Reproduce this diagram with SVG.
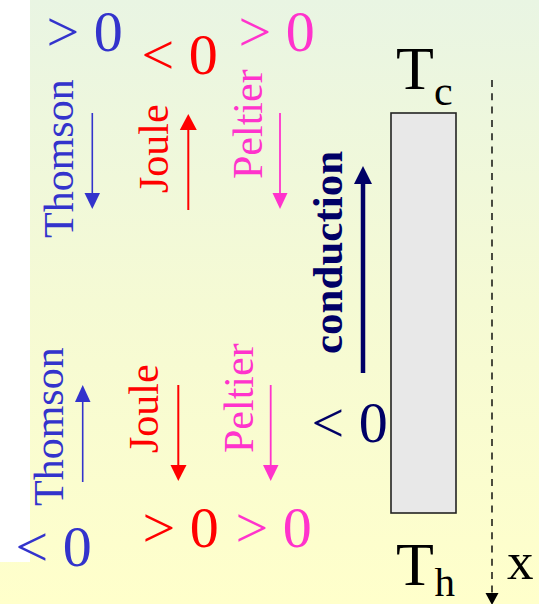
<svg xmlns="http://www.w3.org/2000/svg" width="539" height="604" viewBox="0 0 539 604">
  <defs>
    <linearGradient id="bg" x1="0" y1="0" x2="0" y2="1">
      <stop offset="0" stop-color="#E9F5E3"/>
      <stop offset="0.5" stop-color="#F5FAD4"/>
      <stop offset="1" stop-color="#FFFFCB"/>
    </linearGradient>
  </defs>
  <style>
    .m { font-size: 58px; }
    .lab { font-size: 42px; }
    .blue { fill: #3333CC; }
    .red { fill: #FF0000; }
    .mag { fill: #FF33CC; }
    .navy { fill: #000066; }
    .blk { fill: #000000; }
    .ls { fill: none; stroke-linecap: butt; }
    .lblue { stroke: #3333CC; stroke-width: 1.6; }
    .lred { stroke: #FF0000; stroke-width: 2; }
    .lmag { stroke: #FF33CC; stroke-width: 1.8; }
    .lnavy { stroke: #000066; stroke-width: 4.5; }
  </style>

  <!-- background -->
  <rect x="0" y="0" width="539" height="604" fill="url(#bg)"/>
  <rect x="0" y="0" width="30" height="562" fill="#FFFFFF"/>

  <g font-family="'Liberation Serif', 'Times New Roman', serif">
  <!-- bar node -->
  <g id="bar">
    <rect x="391" y="113" width="65" height="400" fill="#E8E8E8" stroke="#222222" stroke-width="1.6"/>
  </g>
  <g id="Tc">
    <text class="blk" x="396" y="89" font-size="62">T</text>
    <text class="blk" x="434" y="105" font-size="42">c</text>
  </g>
  <g id="Th">
    <text class="blk" x="396" y="585" font-size="62">T</text>
    <text class="blk" x="434.5" y="596" font-size="41">h</text>
  </g>
  <g id="xlabel">
    <text class="blk" x="507" y="579" font-size="53">x</text>
  </g>

  <!-- top signs -->
  <g id="thomson-top">
    <text class="m blue" x="46.5" y="51">&gt; 0</text>
    <text class="lab blue" transform="translate(73,238) rotate(-90)">Thomson</text>
  </g>
  <g id="joule-top">
    <text class="m red" x="141.5" y="74">&lt; 0</text>
    <text class="lab red" transform="translate(168,193) rotate(-90)">Joule</text>
  </g>
  <g id="peltier-top">
    <text class="m mag" x="238.5" y="51">&gt; 0</text>
    <text class="lab mag" transform="translate(262,179) rotate(-90)">Peltier</text>
  </g>

  <!-- bottom signs -->
  <g id="thomson-bottom">
    <text class="m blue" x="15.5" y="566">&lt; 0</text>
    <text class="lab blue" transform="translate(63,506) rotate(-90)">Thomson</text>
  </g>
  <g id="joule-bottom">
    <text class="m red" x="142.5" y="547">&gt; 0</text>
    <text class="lab red" transform="translate(158,453) rotate(-90)">Joule</text>
  </g>
  <g id="peltier-bottom">
    <text class="m mag" x="235.5" y="547">&gt; 0</text>
    <text class="lab mag" transform="translate(253,453) rotate(-90)">Peltier</text>
  </g>

  <g id="conduction">
    <text class="navy" font-size="43" font-weight="bold" transform="translate(342,354) rotate(-90)">conduction</text>
    <text class="m navy" x="311.5" y="442">&lt; 0</text>
  </g>
  </g>

  <!-- connectors -->
  <g id="connectors">
    <line class="ls lblue" x1="92.3" y1="113" x2="92.3" y2="196"/>
    <polygon class="blue" points="84.5,193 100,193 92.3,209"/>

    <line class="ls lred" x1="188.3" y1="210" x2="188.3" y2="127"/>
    <polygon class="red" points="179.8,130 196.8,130 188.3,114"/>

    <line class="ls lmag" x1="280" y1="113" x2="280" y2="196"/>
    <polygon class="mag" points="272.5,193 287.5,193 280,209"/>

    <line class="ls lblue" x1="82.7" y1="482" x2="82.7" y2="399"/>
    <polygon class="blue" points="75,402 90.5,402 82.7,385"/>

    <line class="ls lred" x1="178.3" y1="385" x2="178.3" y2="468"/>
    <polygon class="red" points="170.5,465 186.5,465 178.3,481"/>

    <line class="ls lmag" x1="270.7" y1="385" x2="270.7" y2="468"/>
    <polygon class="mag" points="263,465 278.5,465 270.7,481"/>

    <line class="ls lnavy" x1="363" y1="373" x2="363" y2="180"/>
    <polygon class="navy" points="354,184 372,184 363,166"/>

    <line x1="492" y1="80" x2="492" y2="594" stroke="#000000" stroke-width="1.4" stroke-dasharray="7 6.3"/>
    <polygon class="blk" points="485.5,593 498.5,593 492,605"/>
  </g>
</svg>
